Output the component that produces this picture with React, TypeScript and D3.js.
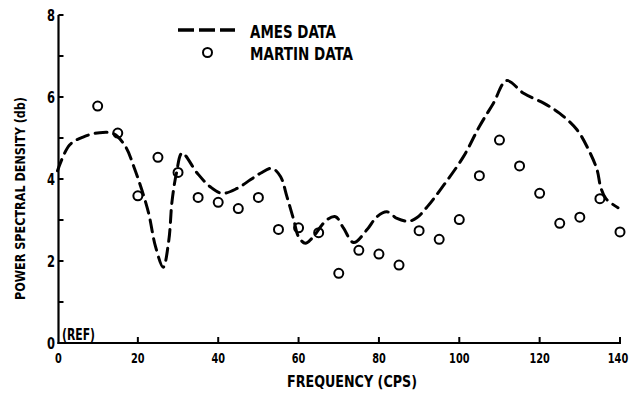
import React from "react";
import * as d3 from "d3";

const amesFreq = [0, 3, 6.5, 10.5, 14, 17, 19, 21, 22.7, 24.4, 26.3, 27.7, 28.5, 29.6, 31, 34.8, 38, 41, 44.7, 48, 50.5, 53.4, 55.5, 57.1, 58.8, 60, 61.7, 63.3, 67, 69.2, 71.2, 73.7, 77, 79.5, 82, 84.5, 87.4, 89.5, 92, 95, 101, 105, 108.5, 111.8, 116, 121, 125, 129.3, 132.2, 134.3, 135.2, 136.5, 139.5];
const amesPsd = [4.2, 4.83, 5.03, 5.13, 5.1, 4.78, 4.3, 3.73, 3.16, 2.35, 1.85, 2.5, 3.45, 4.14, 4.63, 4.14, 3.81, 3.65, 3.77, 3.98, 4.14, 4.26, 4.06, 3.57, 3.0, 2.59, 2.43, 2.55, 3.0, 3.08, 2.8, 2.45, 2.76, 3.08, 3.2, 3.04, 2.97, 3.06, 3.32, 3.7, 4.54, 5.28, 5.85, 6.4, 6.09, 5.85, 5.6, 5.2, 4.71, 4.22, 3.8, 3.52, 3.3];

const martinFreq = [10, 15, 20, 25, 30, 35, 40, 45, 50, 55, 60, 65, 70, 75, 80, 85, 90, 95, 100, 105, 110, 115, 120, 125, 130, 135, 140];
const martinPsd = [5.78, 5.12, 3.59, 4.53, 4.16, 3.55, 3.43, 3.28, 3.55, 2.77, 2.81, 2.69, 1.7, 2.26, 2.17, 1.9, 2.74, 2.53, 3.01, 4.08, 4.95, 4.32, 3.65, 2.92, 3.07, 3.52, 2.71];

const xTicks = [0, 20, 40, 60, 80, 100, 120, 140];
const yMajor = [0, 2, 4, 6, 8];
const yMinor = [1, 3, 5, 7];

const FONT = "'DejaVu Sans Condensed', 'DejaVu Sans', sans-serif";

export default function App() {
  const W = 633, H = 397;
  const x = d3.scaleLinear().domain([0, 140]).range([57.5, 620]);
  const y = d3.scaleLinear().domain([0, 8]).range([343, 15]);
  const axisX = 58.5;

  const ames = amesFreq.map((f, i) => [f, amesPsd[i]] as [number, number]);
  const line = d3.line<[number, number]>()
    .x(d => x(d[0]))
    .y(d => y(d[1]))
    .curve(d3.curveCatmullRom.alpha(0.5));

  const T = (props: any) => (
    <text fontFamily={FONT} fontWeight="bold" fill="#000" lengthAdjust="spacingAndGlyphs" {...props} />
  );

  return (
    <svg width={W} height={H} style={{ position: "absolute", left: 0, top: 0, background: "#fff" }}>
      <rect width={W} height={H} fill="#fff" />
      {/* axes */}
      <line x1={axisX} x2={axisX} y1={y(8)} y2={y(0) + 1} stroke="#000" strokeWidth={2.2} />
      <line x1={axisX - 1} x2={x(140) + 1} y1={y(0)} y2={y(0)} stroke="#000" strokeWidth={2.2} />
      {yMajor.map(v => (
        <g key={"ym" + v}>
          <line x1={axisX} x2={axisX + 5} y1={y(v)} y2={y(v)} stroke="#000" strokeWidth={2} />
          <T x={55} y={y(v) + 6} textAnchor="end" fontSize={16} textLength={8}>{v}</T>
        </g>
      ))}
      {yMinor.map(v => (
        <line key={"yn" + v} x1={axisX} x2={axisX + 5} y1={y(v)} y2={y(v)} stroke="#000" strokeWidth={2} />
      ))}
      {xTicks.map(v => (
        <g key={"xt" + v}>
          {v > 0 && <line x1={x(v)} x2={x(v)} y1={y(0)} y2={y(0) - 6} stroke="#000" strokeWidth={2} />}
          <T x={(v === 0 ? axisX : Math.min(x(v), 618)) - (String(v).length * 6.8) / 2} y={y(0) + 20} fontSize={14}
            textLength={String(v).length * 6.8}>{v}</T>
        </g>
      ))}
      <T x={62} y={y(0) - 3} fontSize={15} textLength={33}>(REF)</T>
      <T x={287} y={387} fontSize={16} textLength={130}>FREQUENCY (CPS)</T>
      <T transform={`translate(25,300) rotate(-90)`} fontSize={14} textLength={203}>POWER SPECTRAL DENSITY (db)</T>

      {/* Ames curve */}
      <path d={line(ames) || ""} fill="none" stroke="#000" strokeWidth={3} strokeDasharray="12 7" strokeLinecap="round" />

      {/* Martin points */}
      {martinFreq.map((f, i) => (
        <circle key={"m" + i} cx={x(f)} cy={y(martinPsd[i])} r={4.5} fill="none" stroke="#000" strokeWidth={2} />
      ))}

      {/* legend */}
      <line x1={178} x2={235} y1={30} y2={30} stroke="#000" strokeWidth={3.5} strokeDasharray="16 5" />
      <T x={250} y={38} fontSize={17} textLength={86}>AMES DATA</T>
      <circle cx={207.5} cy={52.5} r={4.5} fill="none" stroke="#000" strokeWidth={2} />
      <T x={250} y={60} fontSize={17} textLength={103}>MARTIN DATA</T>
    </svg>
  );
}
